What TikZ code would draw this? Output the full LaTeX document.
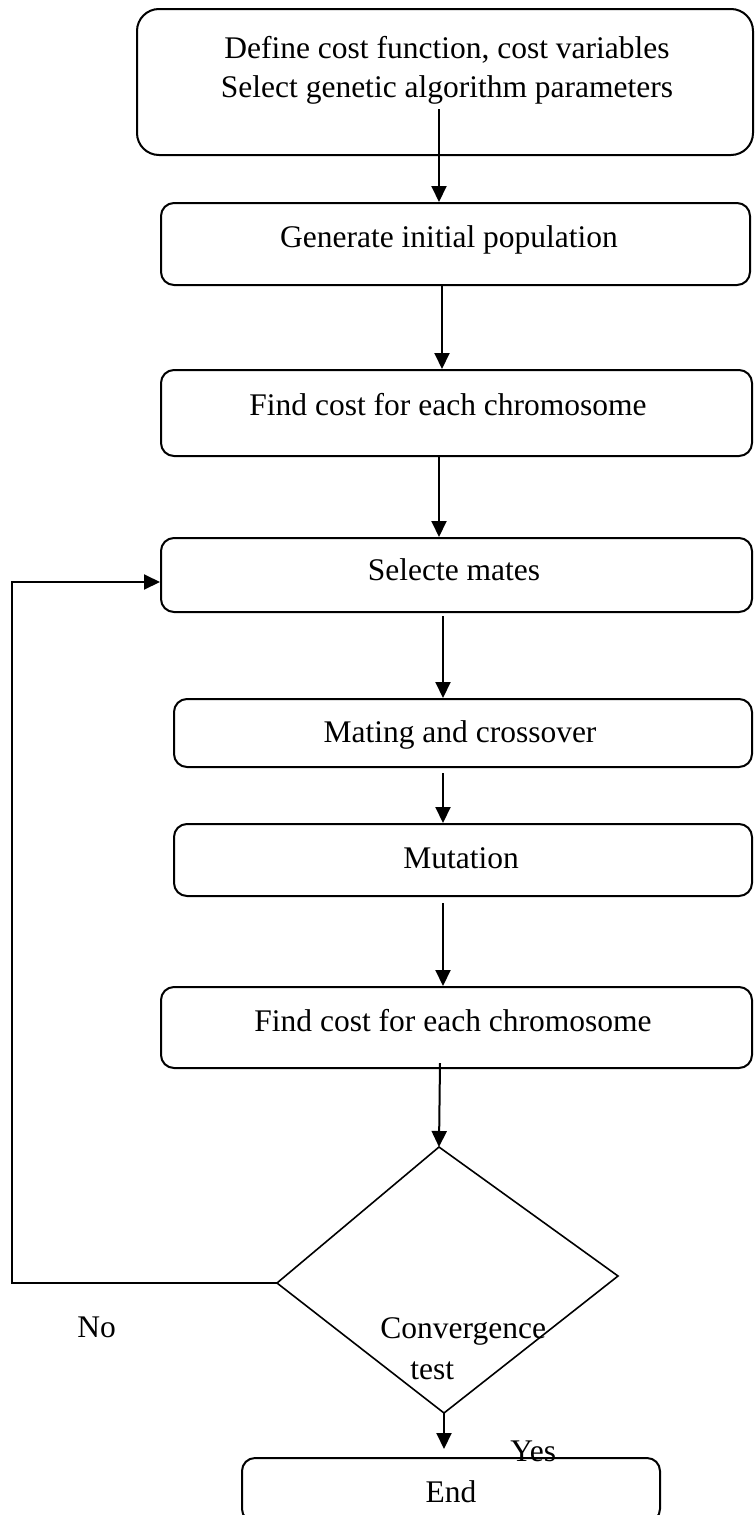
\documentclass[tikz,border=0pt]{standalone}
\usepackage{fontspec}
\setmainfont{Liberation Serif}
\usetikzlibrary{arrows.meta}
\tikzset{
  box/.style={draw, line width=1pt, rounded corners=6.5pt, inner sep=0pt},
  txt/.style={inner sep=0pt, font=\fontsize{15.75}{19}\selectfont},
  arr/.style={line width=1pt, -{Triangle[length=8pt,width=7.5pt]}},
  dline/.style={line width=0.8pt},
}
\begin{document}
\begin{tikzpicture}[x=0.5pt,y=-0.5pt]
\clip (0,0) rectangle (755,1515);
\fill[white] (0,0) rectangle (755,1515);
% boxes
\node[box, rounded corners=11pt, minimum width=308pt, minimum height=73pt] (b1) at (445,82) {};
\node[box, minimum width=294.5pt, minimum height=41pt] (b2) at (455.5,244) {};
\node[box, minimum width=295.5pt, minimum height=43pt] (b3) at (456.5,413) {};
\node[box, minimum width=295.5pt, minimum height=37pt] (b4) at (456.5,575) {};
\node[box, minimum width=289pt, minimum height=34pt] (b5) at (463,733) {};
\node[box, minimum width=289pt, minimum height=36pt] (b6) at (463,860) {};
\node[box, minimum width=295.5pt, minimum height=40.5pt] (b7) at (456.5,1027.5) {};
\node[box, minimum width=209pt, minimum height=32pt] (bE) at (451,1490) {};
% texts
\node[txt, anchor=base] (t1a) at (447,58) {Define cost function, cost variables};
\node[txt, anchor=base] (t1b) at (447,97) {Select genetic algorithm parameters};
\node[txt, anchor=base] (t2) at (449,247) {Generate initial population};
\node[txt, anchor=base] (t3) at (448,415) {Find cost for each chromosome};
\node[txt, anchor=base] (t4) at (454,580) {Selecte mates};
\node[txt, anchor=base] (t5) at (460,742) {Mating and crossover};
\node[txt, anchor=base] (t6) at (461,868) {Mutation};
\node[txt, anchor=base] (t7) at (453,1031) {Find cost for each chromosome};
\node[txt, anchor=base] (tE) at (451,1502) {End};
\node[txt, anchor=base west] (tC1) at (380,1338) {Convergence};
\node[txt, anchor=base west] (tC2) at (410,1379) {test};
\node[txt, anchor=base west] (tY) at (510,1461) {Yes};
\node[txt, anchor=base west] (tN) at (77,1337) {No};
% diamond
\coordinate (dT) at (439,1147);
\coordinate (dR) at (618,1276);
\coordinate (dB) at (444,1413);
\coordinate (dL) at (277,1283);
\draw[dline] (dT) -- (dR) -- (dB) -- (dL) -- cycle;
% connectors
\coordinate (s1) at (439,109);
\draw[arr] (s1) -- (s1 |- b2.north);
\draw[arr] ([xshift=-6.75pt]b2.south) -- ([xshift=-6.75pt]b2.south |- b3.north);
\draw[arr] ([xshift=-8.75pt]b3.south) -- ([xshift=-8.75pt]b3.south |- b4.north);
\draw[arr, shorten <=1.5pt] ([xshift=-6.75pt]b4.south) -- ([xshift=-6.75pt]b4.south |- b5.north);
\draw[arr, shorten <=2.5pt] ([xshift=-10pt]b5.south) -- ([xshift=-10pt]b5.south |- b6.north);
\draw[arr, shorten <=3pt] ([xshift=-10pt]b6.south) -- ([xshift=-10pt]b6.south |- b7.north);
\coordinate (s7) at (440,1063);
\draw[arr] (s7) -- (dT);
\draw[arr, shorten >=4pt] (dB) -- (dB |- bE.north);
\coordinate (fb) at (12,1283);
\draw[arr] (dL) -- (fb) |- ([yshift=-3.5pt]b4.west);
\end{tikzpicture}
\end{document}
